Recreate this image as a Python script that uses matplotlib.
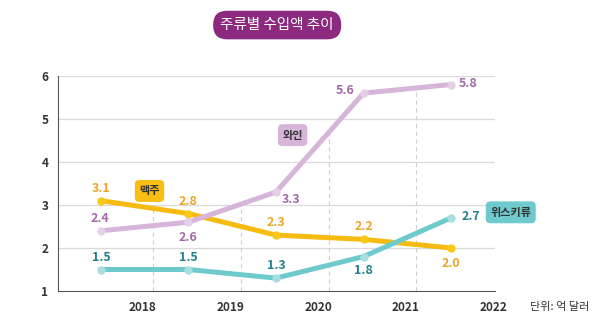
import numpy as np
import matplotlib.pyplot as plt

plt.rcParams['font.family'] = ['Noto Sans CJK KR', 'DejaVu Sans']

years = ['2018', '2019', '2020', '2021', '2022']
beer = [3.1, 2.8, 2.3, 2.2, 2.0]
wine = [2.4, 2.6, 3.3, 5.6, 5.8]
whisky = [1.5, 1.5, 1.3, 1.8, 2.7]

c_beer, c_wine, c_whisky = '#F6BB10', '#D7B4DA', '#6FCACD'
t_beer, t_wine, t_whisky = '#EBA52A', '#A26AA9', '#23808A'

fig = plt.figure(figsize=(6, 3.34), dpi=100)
ax = fig.add_axes([0.0967, 0.1287, 0.728, 0.644])
x = np.arange(len(years))

# grid + dashed separators
for v in [2, 3, 4, 5, 6]:
    ax.axhline(v, color='#DADADA', lw=0.9, zorder=0)
for i in range(len(years) - 1):
    xs = i + 0.6
    top = max(np.interp(xs, x, s) for s in (beer, wine, whisky))
    ax.plot([xs, xs], [1, top], color='#CFCFCF', lw=0.8, ls=(0, (4, 3)), zorder=0)

ax.plot(x, beer, color=c_beer, lw=3.6, marker='o', ms=6, mfc='#F9C91A', mec='none', zorder=3)
ax.plot(x, wine, color=c_wine, lw=3.6, marker='o', ms=6, mfc='#E6D0E8', mec='none', zorder=4)
ax.plot(x, whisky, color=c_whisky, lw=3.6, marker='o', ms=6, mfc='#A8DEE0', mec='none', zorder=5)

def lab(xi, yi, txt, col, dx, dy):
    ax.annotate(txt, (xi, yi), xytext=(dx, dy), textcoords='offset points',
                ha='center', va='center', color=col, fontsize=9, fontweight='bold')

# beer labels
for i, v in enumerate(beer):
    dy = -11 if i == 4 else 9
    lab(i, v, f'{v:.1f}', t_beer, 0, dy)
# wine labels
wine_off = [(-1, 9), (0, -11), (11, -5), (-13, 2), (12, 1)]
for i, v in enumerate(wine):
    lab(i, v, f'{v:.1f}', t_wine, *wine_off[i])
# whisky labels
whisky_off = [(0, 9), (0, 9), (0, 9), (0, -10), (14, 1)]
for i, v in enumerate(whisky):
    lab(i, v, f'{v:.1f}', t_whisky, *whisky_off[i])

# series name tags
def tag(xi, yi, txt, fc, dx, dy):
    ax.annotate(txt, (xi, yi), xytext=(dx, dy), textcoords='offset points',
                ha='center', va='center', color='#333333', fontsize=8, fontweight='bold',
                bbox=dict(boxstyle='round,pad=0.4,rounding_size=0.4', fc=fc, ec='none'))

tag(0, beer[0], '맥주', '#F8BE14', 35, 7)
tag(2, wine[2], '와인', '#D7B4DA', 12, 41)
tag(4, whisky[4], '위스키류', '#6FCACD', 43, 4)

ax.set_xlim(-0.49, 4.5)
ax.set_ylim(1, 6)
ax.set_xticks(x + 0.48)
ax.set_xticklabels(years)
ax.set_yticks([1, 2, 3, 4, 5, 6])
ax.tick_params(length=0, labelsize=8.5, colors='#333333', pad=7)
for t in ax.get_xticklabels() + ax.get_yticklabels():
    t.set_fontweight('bold')
for s in ['top', 'right']:
    ax.spines[s].set_visible(False)
ax.spines['left'].set_color('#555555')
ax.spines['bottom'].set_color('#555555')

fig.text(0.933, 0.081, '단위: 억 달러', ha='center', va='center', fontsize=8, color='#333333')
fig.text(0.462, 0.925, '주류별 수입액 추이', ha='center', va='center', fontsize=10.5, color='white',
         bbox=dict(boxstyle='round,pad=0.5,rounding_size=0.95', fc='#8C2A7F', ec='none'))

fig.savefig('out.png', dpi=100)
